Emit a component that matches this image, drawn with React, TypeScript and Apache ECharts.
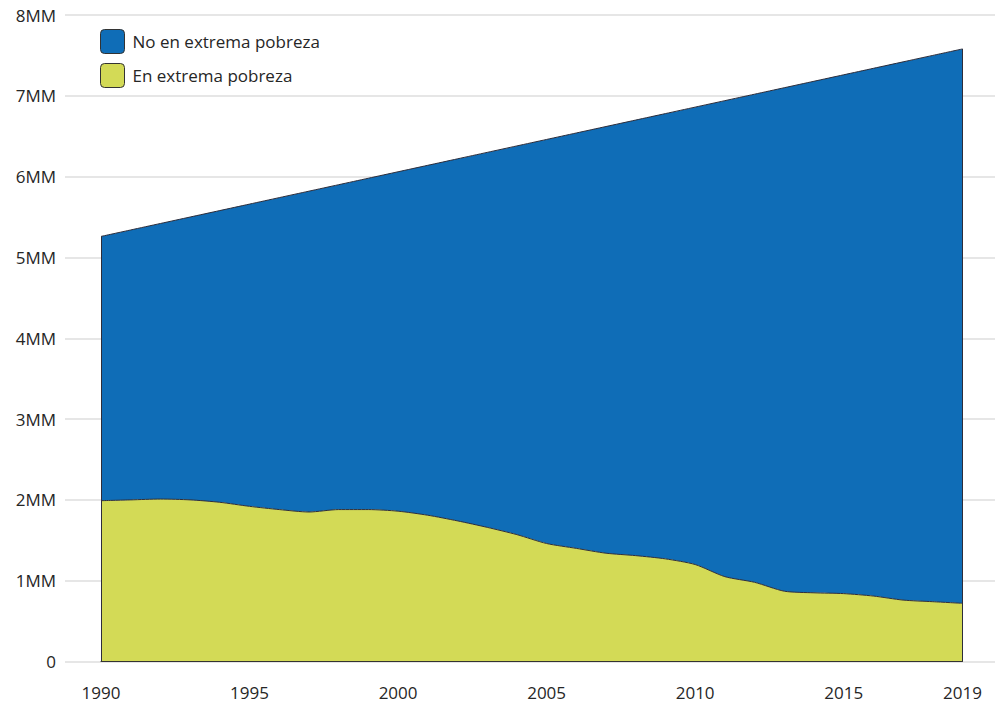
import React, { useEffect, useRef } from "react";
import * as echarts from "echarts";

const years = [
  "1990", "1991", "1992", "1993", "1994", "1995", "1996", "1997", "1998", "1999",
  "2000", "2001", "2002", "2003", "2004", "2005", "2006", "2007", "2008", "2009",
  "2010", "2011", "2012", "2013", "2014", "2015", "2016", "2017", "2018", "2019",
];

// miles de millones (MM)
const extremePoverty = [
  1.99, 2.0, 2.01, 2.0, 1.97, 1.92, 1.88, 1.85, 1.88, 1.88,
  1.86, 1.81, 1.74, 1.66, 1.57, 1.46, 1.4, 1.34, 1.31, 1.27,
  1.2, 1.05, 0.98, 0.87, 0.85, 0.84, 0.81, 0.76, 0.74, 0.72,
];

const notExtremePoverty = [
  3.27, 3.34, 3.41, 3.5, 3.61, 3.74, 3.86, 3.97, 4.02, 4.1,
  4.2, 4.33, 4.48, 4.64, 4.81, 5.0, 5.14, 5.28, 5.39, 5.51,
  5.66, 5.89, 6.04, 6.23, 6.33, 6.42, 6.53, 6.66, 6.76, 6.86,
];

const seriesNames = ["No en extrema pobreza", "En extrema pobreza"];
const yTicks = [0, 1, 2, 3, 4, 5, 6, 7, 8];

const BLUE = "#0f6db7";
const YELLOW = "#d3da56";
const EDGE = "#2d2d3a";
const FONT = "Open Sans";
const TEXT = "#262626";

export default function App() {
  const ref = useRef<HTMLDivElement>(null);

  useEffect(() => {
    document.body.style.margin = "0";
    if (!ref.current) return;
    const chart = echarts.init(ref.current, null, { renderer: "svg" });
    const last = years.length - 1;
    const total0 = extremePoverty[0] + notExtremePoverty[0];
    const totalN = extremePoverty[last] + notExtremePoverty[last];

    const option: any = {
      animation: false,
      textStyle: { fontFamily: FONT },
      legend: {
        orient: "vertical",
        left: 95,
        top: 24,
        itemWidth: 24,
        itemHeight: 24,
        itemGap: 9,
        icon: "path://M4,0H20A4,4,0,0,1,24,4V20A4,4,0,0,1,20,24H4A4,4,0,0,1,0,20V4A4,4,0,0,1,4,0Z",
        itemStyle: { borderColor: "#333", borderWidth: 1 },
        textStyle: { fontFamily: FONT, fontSize: 17, color: TEXT, padding: [0, 0, 0, 3] },
        data: [
          { name: seriesNames[0], itemStyle: { color: BLUE } },
          { name: seriesNames[1], itemStyle: { color: YELLOW } },
        ],
      },
      grid: [
        { left: 65, right: 7, top: 15, bottom: 43.5 },
        { left: 101, right: 39.5, top: 15, bottom: 43.5 },
      ],
      xAxis: [
        { type: "value", gridIndex: 0, show: false, min: 0, max: 1 },
        {
          type: "category",
          gridIndex: 1,
          data: years,
          boundaryGap: false,
          axisLine: { show: true, lineStyle: { color: "#333", width: 1 } },
          axisTick: { show: false },
          axisLabel: {
            interval: (i: number) => i % 5 === 0 || i === last,
            fontFamily: FONT,
            fontSize: 17,
            color: TEXT,
            margin: 22,
          },
          splitLine: { show: false },
          z: 10,
        },
      ],
      yAxis: [
        {
          type: "value",
          gridIndex: 0,
          min: 0,
          max: 8,
          interval: 1,
          axisLine: { show: false },
          axisTick: { show: false },
          axisLabel: {
            fontFamily: FONT,
            fontSize: 17,
            color: TEXT,
            margin: 9,
            formatter: (v: number) => (v === 0 ? "0" : v + "MM"),
          },
          splitLine: { show: true, lineStyle: { color: "#e6e6e6", width: 2 } },
        },
        {
          type: "value",
          gridIndex: 1,
          min: yTicks[0],
          max: yTicks[yTicks.length - 1],
          interval: 1,
          show: false,
        },
      ],
      series: [
        {
          name: seriesNames[1],
          type: "line",
          xAxisIndex: 1,
          yAxisIndex: 1,
          stack: "pop",
          data: extremePoverty,
          smooth: 0.25,
          symbol: "none",
          color: YELLOW,
          lineStyle: { color: EDGE, width: 1 },
          areaStyle: { color: YELLOW, opacity: 1 },
          z: 3,
        },
        {
          name: seriesNames[0],
          type: "line",
          xAxisIndex: 1,
          yAxisIndex: 1,
          stack: "pop",
          data: notExtremePoverty,
          smooth: 0.25,
          symbol: "none",
          color: BLUE,
          lineStyle: { color: EDGE, width: 1 },
          areaStyle: { color: BLUE, opacity: 1 },
          z: 2,
          markLine: {
            silent: true,
            symbol: "none",
            label: { show: false },
            lineStyle: { color: EDGE, width: 1, type: "solid" },
            data: [
              [{ coord: [0, 0] }, { coord: [0, total0] }],
              [{ coord: [last, 0] }, { coord: [last, totalN] }],
            ],
          },
        },
      ],
    };
    chart.setOption(option);
    return () => chart.dispose();
  }, []);

  return <div ref={ref} style={{ width: 1002, height: 705 }} />;
}
